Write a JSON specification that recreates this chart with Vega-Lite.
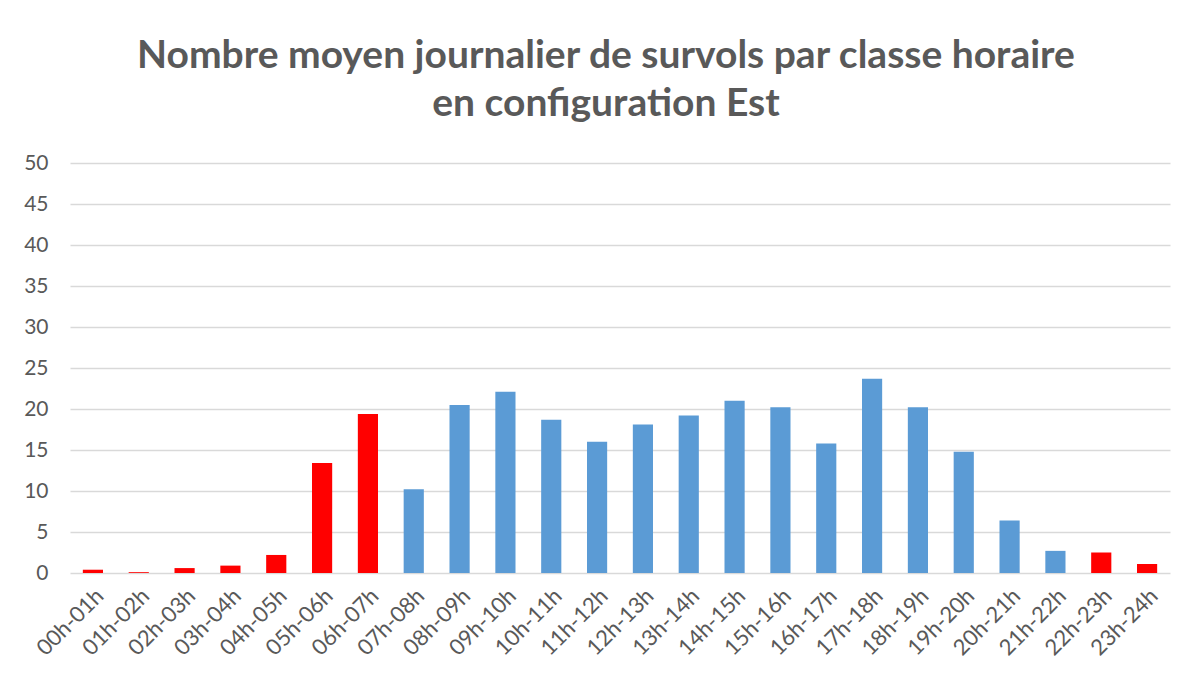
{
  "$schema": "https://vega.github.io/schema/vega-lite/v6.json",
  "width": 1100,
  "height": 410,
  "autosize": {"type": "none"},
  "padding": {"left": 70, "right": 27, "top": 163, "bottom": 109},
  "background": "white",
  "title": {
    "text": ["Nombre moyen journalier de survols par classe horaire", "en configuration Est"],
    "font": "Lato",
    "fontSize": 39,
    "fontWeight": "bold",
    "color": "#595959",
    "lineHeight": 48,
    "anchor": "middle",
    "dx": -14,
    "offset": 28
  },
  "data": {
    "values": [
      {"classe": "00h-01h", "survols": 0.4, "periode": "nuit"},
      {"classe": "01h-02h", "survols": 0.1, "periode": "nuit"},
      {"classe": "02h-03h", "survols": 0.6, "periode": "nuit"},
      {"classe": "03h-04h", "survols": 0.9, "periode": "nuit"},
      {"classe": "04h-05h", "survols": 2.2, "periode": "nuit"},
      {"classe": "05h-06h", "survols": 13.4, "periode": "nuit"},
      {"classe": "06h-07h", "survols": 19.4, "periode": "nuit"},
      {"classe": "07h-08h", "survols": 10.2, "periode": "jour"},
      {"classe": "08h-09h", "survols": 20.5, "periode": "jour"},
      {"classe": "09h-10h", "survols": 22.1, "periode": "jour"},
      {"classe": "10h-11h", "survols": 18.7, "periode": "jour"},
      {"classe": "11h-12h", "survols": 16.0, "periode": "jour"},
      {"classe": "12h-13h", "survols": 18.1, "periode": "jour"},
      {"classe": "13h-14h", "survols": 19.2, "periode": "jour"},
      {"classe": "14h-15h", "survols": 21.0, "periode": "jour"},
      {"classe": "15h-16h", "survols": 20.2, "periode": "jour"},
      {"classe": "16h-17h", "survols": 15.8, "periode": "jour"},
      {"classe": "17h-18h", "survols": 23.7, "periode": "jour"},
      {"classe": "18h-19h", "survols": 20.2, "periode": "jour"},
      {"classe": "19h-20h", "survols": 14.8, "periode": "jour"},
      {"classe": "20h-21h", "survols": 6.4, "periode": "jour"},
      {"classe": "21h-22h", "survols": 2.7, "periode": "jour"},
      {"classe": "22h-23h", "survols": 2.5, "periode": "nuit"},
      {"classe": "23h-24h", "survols": 1.1, "periode": "nuit"}
    ]
  },
  "mark": {"type": "bar", "strokeWidth": 0},
  "encoding": {
    "x": {
      "field": "classe",
      "type": "nominal",
      "sort": null,
      "title": null,
      "scale": {"paddingInner": 0.56, "paddingOuter": 0.28},
      "axis": {
        "labelAngle": -45,
        "labelFont": "Lato",
        "labelFontSize": 22,
        "labelColor": "#595959",
        "ticks": false,
        "domain": false,
        "labelPadding": 12
      }
    },
    "y": {
      "field": "survols",
      "type": "quantitative",
      "title": null,
      "scale": {"domain": [0, 50], "nice": false},
      "axis": {
        "values": [0, 5, 10, 15, 20, 25, 30, 35, 40, 45, 50],
        "labelFont": "Lato",
        "labelFontSize": 21,
        "labelColor": "#595959",
        "ticks": false,
        "domain": false,
        "labelPadding": 22,
        "gridColor": "#D9D9D9",
        "gridWidth": 1.5
      }
    },
    "color": {
      "field": "periode",
      "type": "nominal",
      "scale": {"domain": ["nuit", "jour"], "range": ["#FF0000", "#5B9BD5"]},
      "legend": null
    }
  },
  "config": {"view": {"stroke": null}}
}
